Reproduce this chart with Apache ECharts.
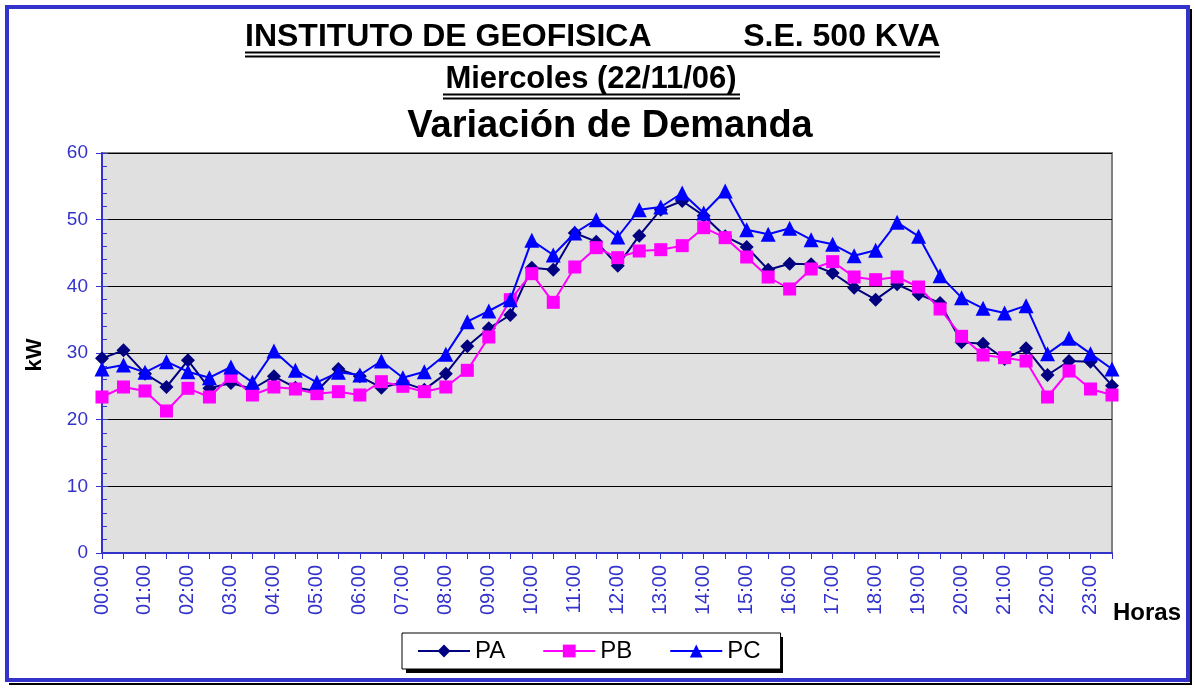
<!DOCTYPE html>
<html>
<head>
<meta charset="utf-8">
<script src="https://cdn.jsdelivr.net/npm/echarts@6/dist/echarts.min.js"></script>
<style>
    html, body { margin: 0; padding: 0; background: #fff; }
    #chart { width: 1195px; height: 689px; }
</style>
</head>
<body>
<div id="chart"></div>
<script>
    // horas cada media hora
    let horas = []
    for (let h = 0; h < 24; h++) {
        let hh = (h < 10 ? '0' : '') + h
        horas.push(hh + ':00')
        horas.push(hh + ':30')
    }

    let PA = [29.2, 30.4, 26.9, 24.9, 28.9, 24.7, 25.5, 24.6, 26.5, 24.8, 24.3, 27.6, 26.5, 24.8, 25.6, 24.5,
        26.9, 31.0, 33.7, 35.7, 42.8, 42.5, 48.0, 46.7, 43.1, 47.6, 51.5, 52.8, 50.6, 47.5, 45.9, 42.5,
        43.4, 43.3, 42.0, 39.8, 38.0, 40.3, 38.8, 37.5, 31.6, 31.4, 29.1, 30.7, 26.7, 28.8, 28.7, 25.1]
    let PB = [23.4, 24.9, 24.3, 21.3, 24.7, 23.4, 26.5, 23.7, 24.9, 24.6, 23.9, 24.2, 23.7, 25.7, 25.0, 24.2,
        24.9, 27.4, 32.4, 38.0, 41.9, 37.6, 42.9, 45.8, 44.3, 45.3, 45.5, 46.1, 48.8, 47.3, 44.4, 41.4,
        39.6, 42.6, 43.7, 41.4, 41.0, 41.4, 39.9, 36.6, 32.5, 29.7, 29.3, 28.8, 23.4, 27.3, 24.6, 23.7]
    let PC = [27.6, 28.2, 27.1, 28.7, 27.2, 26.3, 27.9, 25.6, 30.3, 27.4, 25.6, 27.1, 26.7, 28.8, 26.3, 27.2,
        29.8, 34.7, 36.3, 38.0, 46.9, 44.7, 48.0, 50.0, 47.4, 51.5, 51.9, 54.0, 51.0, 54.3, 48.5, 47.8,
        48.7, 47.0, 46.3, 44.6, 45.4, 49.6, 47.5, 41.6, 38.3, 36.7, 36.0, 37.1, 29.9, 32.2, 29.9, 27.6]

    let azul = '#3333CC'
    let fuente = "'Liberation Sans', Arial, sans-serif"

    let option = {
        animation: false,
        backgroundColor: '#fff',
        textStyle: { fontFamily: fuente },
        grid: {
            left: 102,
            right: 83,
            top: 153,
            bottom: 136,
            show: true,
            backgroundColor: '#E0E0E0',
            borderColor: '#808080',
            borderWidth: 2,
        },
        legend: {
            left: 402,
            top: 633,
            padding: [6, 20, 6, 15],
            itemGap: 37,
            itemWidth: 52,
            itemHeight: 16,
            backgroundColor: '#fff',
            borderColor: '#000',
            borderWidth: 1,
            borderRadius: 0,
            textStyle: { fontSize: 24, color: '#000', fontFamily: fuente },
            data: ['PA', 'PB', 'PC'],
        },
        xAxis: {
            type: 'category',
            data: horas,
            boundaryGap: false,
            axisLine: { lineStyle: { color: azul, width: 2 } },
            axisTick: {
                show: true,
                interval: 0,
                length: 6,
                lineStyle: { color: azul, width: 1 },
            },
            axisLabel: {
                interval: 1,
                rotate: 90,
                margin: 12,
                color: azul,
                fontSize: 20,
                fontFamily: fuente,
            },
            splitLine: { show: false },
        },
        yAxis: [
            {
                type: 'value',
                min: 0,
                max: 60,
                interval: 10,
                axisLine: { show: true, lineStyle: { color: azul, width: 2 } },
                axisTick: { show: true, inside: true, length: 6, lineStyle: { color: azul } },
                minorTick: { show: true, splitNumber: 5, length: 5, lineStyle: { color: azul } },
                axisLabel: { margin: 14, color: azul, fontSize: 19, fontFamily: fuente },
                splitLine: { show: true, lineStyle: { color: '#000', width: 1 } },
            },
            {
                type: 'value',
                position: 'left',
                min: 0,
                max: 60,
                interval: 10,
                axisLine: { show: false },
                axisTick: { show: true, length: 6, lineStyle: { color: azul } },
                axisLabel: { show: false },
                splitLine: { show: false },
            },
        ],
        series: [
            {
                name: 'PA',
                type: 'line',
                data: PA,
                symbol: 'diamond',
                symbolSize: 14,
                showAllSymbol: true,
                color: '#000080',
                lineStyle: { width: 2, color: '#000080' },
                itemStyle: { color: '#000080' },
                z: 3,
            },
            {
                name: 'PB',
                type: 'line',
                data: PB,
                symbol: 'rect',
                symbolSize: 13,
                showAllSymbol: true,
                color: '#FF00FF',
                lineStyle: { width: 2, color: '#FF00FF' },
                itemStyle: { color: '#FF00FF' },
                z: 4,
            },
            {
                name: 'PC',
                type: 'line',
                data: PC,
                symbol: 'triangle',
                symbolSize: 15,
                showAllSymbol: true,
                color: '#0000FF',
                lineStyle: { width: 2, color: '#0000FF' },
                itemStyle: { color: '#0000FF' },
                z: 5,
            },
        ],
        graphic: [
            // marco con sombra abajo y a la derecha
            { type: 'line', shape: { x1: 1191, y1: 9, x2: 1191, y2: 685 }, style: { stroke: '#000', lineWidth: 2 } },
            { type: 'line', shape: { x1: 9, y1: 684, x2: 1192, y2: 684 }, style: { stroke: '#000', lineWidth: 2 } },
            { type: 'rect', shape: { x: 7, y: 7, width: 1181, height: 673 }, style: { fill: 'none', stroke: azul, lineWidth: 4 }, z: 1 },
            // titulos
            { type: 'text', style: { x: 245, y: 37, text: 'INSTITUTO DE GEOFISICA', font: 'bold 32px ' + fuente, fill: '#000', align: 'left', verticalAlign: 'middle' } },
            { type: 'text', style: { x: 940, y: 37, text: 'S.E. 500 KVA', font: 'bold 32px ' + fuente, fill: '#000', align: 'right', verticalAlign: 'middle' } },
            { type: 'line', shape: { x1: 245, y1: 52.5, x2: 940, y2: 52.5 }, style: { stroke: '#000', lineWidth: 2 } },
            { type: 'line', shape: { x1: 245, y1: 56.5, x2: 940, y2: 56.5 }, style: { stroke: '#000', lineWidth: 2 } },
            { type: 'text', style: { x: 591, y: 79, text: 'Miercoles (22/11/06)', font: 'bold 31px ' + fuente, fill: '#000', align: 'center', verticalAlign: 'middle' } },
            { type: 'line', shape: { x1: 443, y1: 94.5, x2: 740, y2: 94.5 }, style: { stroke: '#000', lineWidth: 2 } },
            { type: 'line', shape: { x1: 443, y1: 98.5, x2: 740, y2: 98.5 }, style: { stroke: '#000', lineWidth: 2 } },
            { type: 'text', style: { x: 610, y: 127, text: 'Variación de Demanda', font: 'bold 38px ' + fuente, fill: '#000', align: 'center', verticalAlign: 'middle' } },
            // nombres de ejes
            { type: 'text', x: 35, y: 355, rotation: Math.PI / 2, style: { x: 0, y: 0, text: 'kW', font: 'bold 22px ' + fuente, fill: '#000', align: 'center', verticalAlign: 'middle' } },
            { type: 'text', style: { x: 1147, y: 613, text: 'Horas', font: 'bold 24px ' + fuente, fill: '#000', align: 'center', verticalAlign: 'middle' } },
            // sombra de la leyenda
            { type: 'rect', shape: { x: 406, y: 637, width: 377, height: 36 }, style: { fill: '#000' }, z: -1 },
        ],
    }

    let myChart = echarts.init(document.getElementById('chart'), null, { renderer: 'canvas' })
    myChart.setOption(option)
</script>
</body>
</html>
